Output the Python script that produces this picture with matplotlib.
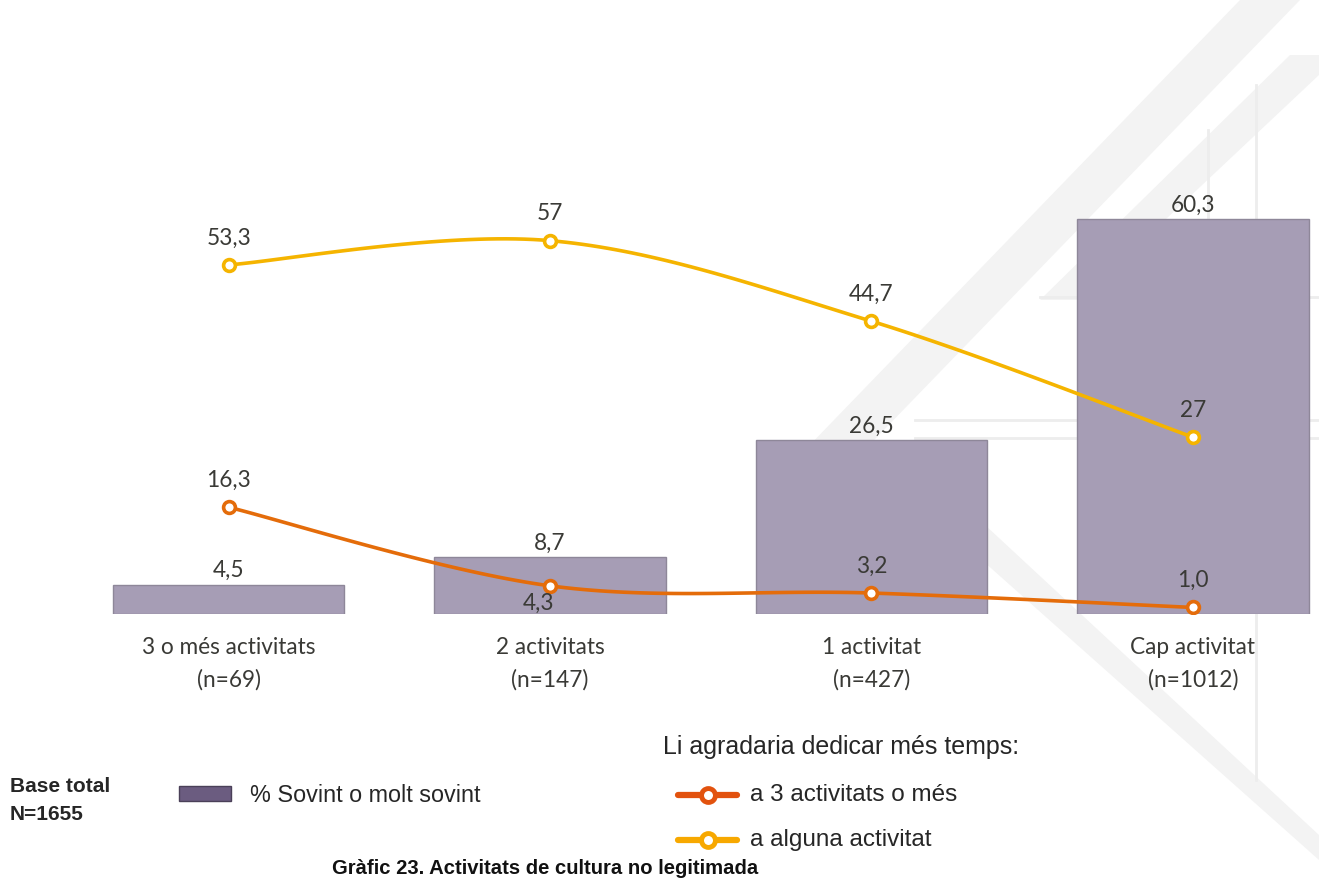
import numpy as np
import matplotlib
matplotlib.use("Agg")
import matplotlib.pyplot as plt
from matplotlib.lines import Line2D
from matplotlib.patches import Rectangle, Polygon

categories = ["3 o més activitats", "2 activitats", "1 activitat", "Cap activitat"]
counts = ["(n=69)", "(n=147)", "(n=427)", "(n=1012)"]
bar_values = [4.5, 8.7, 26.5, 60.3]
three_plus = [16.3, 4.3, 3.2, 1.0]
any_activity = [53.3, 57, 44.7, 27]
bar_labels = ["4,5", "8,7", "26,5", "60,3"]
three_labels = ["16,3", "4,3", "3,2", "1,0"]
any_labels = ["53,3", "57", "44,7", "27"]

W, H = 1319, 881
fig = plt.figure(figsize=(W / 100, H / 100), dpi=100)
fig.patch.set_facecolor("white")


def fx(px):
    return px / W


def fy(py):
    return 1 - py / H


# faint background watermark
wm = "#f3f3f3"
for pts in [
    [(805, 450), (1240, 0), (1300, 0), (850, 465)],
    [(1040, 300), (1290, 55), (1319, 55), (1319, 75), (1080, 300)],
    [(985, 525), (1319, 835), (1319, 860), (965, 545)],
]:
    fig.add_artist(Polygon([(fx(a), fy(b)) for a, b in pts], closed=True, transform=fig.transFigure,
                           facecolor=wm, edgecolor="none", zorder=0))
for y0, x0 in [(297, 1040), (420, 915), (438, 915)]:
    fig.add_artist(Line2D([fx(x0), fx(1319)], [fy(y0), fy(y0)], transform=fig.transFigure,
                          color="#ededed", lw=2, zorder=0))
for x0, ya, yb in [(1208, 130, 270), (1256, 85, 780)]:
    fig.add_artist(Line2D([fx(x0), fx(x0)], [fy(ya), fy(yb)], transform=fig.transFigure,
                          color="#ededed", lw=2, zorder=0))

# axes in pixel coordinates
ax_left, ax_right = 68, 1315
ax_base = 614
ymax = 70
px_per_unit = 6.55
ax_top = ax_base - ymax * px_per_unit
ax = fig.add_axes([ax_left / W, (H - ax_base) / H, (ax_right - ax_left) / W, (ax_base - ax_top) / H])
ax.set_xlim(-0.5, 3.38)
ax.set_ylim(0, ymax)
ax.axis("off")
ax.patch.set_alpha(0)

x = np.arange(len(categories))
bar_col = "#a69db5"
ax.bar(x, bar_values, width=0.72, color=bar_col, edgecolor="#8e8799", linewidth=1, zorder=1)

txt_col = "#3a3a36"
lab_font = "Lato"
fs = 16.3
for xi, v, lab in zip(x, bar_values, bar_labels):
    ax.annotate(lab, (xi, v), xytext=(0, 14), textcoords="offset pixels", ha="center", va="center",
                fontsize=fs, color=txt_col, family=lab_font, zorder=5)


def smooth(xs, ys, n=40):
    xs = np.asarray(xs, float)
    ys = np.asarray(ys, float)
    P = np.column_stack([xs, ys])
    P = np.vstack([P[0], P, P[-1]])
    out = []
    for i in range(1, len(P) - 2):
        p0, p1, p2, p3 = P[i - 1], P[i], P[i + 1], P[i + 2]
        c1 = p1 + (p2 - p0) / 6
        c2 = p2 - (p3 - p1) / 6
        t = np.linspace(0, 1, n)[:, None]
        seg = (1 - t) ** 3 * p1 + 3 * (1 - t) ** 2 * t * c1 + 3 * (1 - t) * t ** 2 * c2 + t ** 3 * p2
        out.append(seg if i == 1 else seg[1:])
    return np.vstack(out)


orange = "#e46c0a"
yellow = "#f5b400"
for vals, col in [(three_plus, orange), (any_activity, yellow)]:
    s = smooth(x, vals)
    ax.plot(s[:, 0], s[:, 1], color=col, lw=2.6, zorder=3, solid_capstyle="round")
    ax.plot(x, vals, ls="none", marker="o", ms=8.5, mfc="white", mec=col, mew=2.6, zorder=4)

for xi, v, lab in zip(x, any_activity, any_labels):
    ax.annotate(lab, (xi, v), xytext=(0, 27), textcoords="offset pixels", ha="center", va="center",
                fontsize=fs, color=txt_col, family=lab_font, zorder=5)
for i, (xi, v, lab) in enumerate(zip(x, three_plus, three_labels)):
    off = (-12, -18) if i == 1 else (0, 27)
    ax.annotate(lab, (xi, v), xytext=off, textcoords="offset pixels", ha="center", va="center",
                fontsize=fs, color=txt_col, family=lab_font, zorder=5)

for xi, c, n in zip(x, categories, counts):
    ax.annotate(c, (xi, 0), xytext=(0, -33), textcoords="offset pixels", ha="center", va="center",
                fontsize=fs, color=txt_col, family=lab_font)
    ax.annotate(n, (xi, 0), xytext=(0, -66), textcoords="offset pixels", ha="center", va="center",
                fontsize=fs, color=txt_col, family=lab_font)

leg_font = "Liberation Sans"
leg_col = "#262626"
fig.text(fx(10), fy(787), "Base total", fontsize=15, fontweight="bold", family=leg_font,
         color=leg_col, va="center", ha="left")
fig.text(fx(10), fy(815), "N=1655", fontsize=15, fontweight="bold", family=leg_font,
         color=leg_col, va="center", ha="left")
fig.add_artist(Rectangle((fx(179), fy(801)), fx(52), 15 / H, transform=fig.transFigure,
                         facecolor="#6b5c80", edgecolor="#4a4058", lw=1))
fig.text(fx(250), fy(795), "% Sovint o molt sovint", fontsize=16.8, family=leg_font,
         color=leg_col, va="center", ha="left")

fig.text(fx(663), fy(747), "Li agradaria dedicar més temps:", fontsize=18, family=leg_font,
         color=leg_col, va="center", ha="left")
for py, col, lab in [(795, "#e2520e", "a 3 activitats o més"), (840, "#f7a800", "a alguna activitat")]:
    fig.add_artist(Line2D([fx(678), fx(737)], [fy(py), fy(py)], transform=fig.transFigure,
                          color=col, lw=4.5, solid_capstyle="round"))
    fig.add_artist(Line2D([fx(708)], [fy(py)], transform=fig.transFigure, ls="none",
                          marker="o", ms=10, mfc="white", mec=col, mew=3.5))
    fig.text(fx(750), fy(py), lab, fontsize=17.5, family=leg_font, color=leg_col,
             va="center", ha="left")

fig.text(fx(545), fy(868), "Gràfic 23. Activitats de cultura no legitimada", fontsize=14.6,
         fontweight="bold", family=leg_font, color="#111111", va="center", ha="center")

fig.savefig("out.png", dpi=100, facecolor="white")
